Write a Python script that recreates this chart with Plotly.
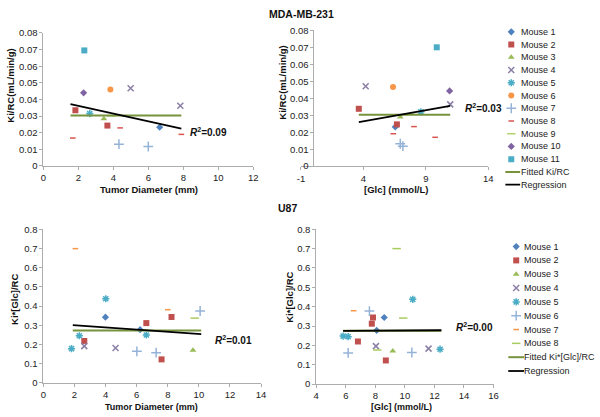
import plotly.graph_objects as go

W, H = 600, 417
FONT = 'Arial, Liberation Sans, sans-serif'

# MDA-MB-231 : Ki/RC against tumour diameter
tl_mouse = ['Mouse 1', 'Mouse 2', 'Mouse 2', 'Mouse 3', 'Mouse 4', 'Mouse 4', 'Mouse 5', 'Mouse 6',
            'Mouse 7', 'Mouse 7', 'Mouse 8', 'Mouse 8', 'Mouse 8', 'Mouse 9', 'Mouse 10', 'Mouse 11']
tl_x = [6.65, 1.83, 3.66, 3.46, 4.99, 7.83, 2.65, 3.83, 4.32, 6.0, 1.68, 4.39, 7.89, 3.89, 2.30, 2.34]
tl_y = [0.0233, 0.0335, 0.0243, 0.0284, 0.0468, 0.0362, 0.0315, 0.046, 0.0131, 0.0117,
        0.0168, 0.0229, 0.019, 0.0301, 0.044, 0.0695]
tl_line_x = [1.55, 7.89]
tl_fit_y = [0.0303, 0.0303]
tl_reg_y = [0.0372, 0.0225]

# MDA-MB-231 : Ki/RC against [Glc]
tr_mouse = tl_mouse
tr_x = [6.55, 3.63, 6.68, 6.95, 4.18, 10.95, 8.6, 6.37, 6.95, 7.16, 9.74, 8.05, 6.39, 7.68, 10.9, 9.87]
tr_y = [0.0231, 0.0338, 0.0246, 0.029, 0.0471, 0.0364, 0.032, 0.0466, 0.0132, 0.0118,
        0.017, 0.0233, 0.0191, 0.0307, 0.0443, 0.070]
tr_line_x = [3.63, 10.95]
tr_fit_y = [0.0303, 0.0303]
tr_reg_y = [0.026, 0.0355]

# U87 : Ki*[Glc]/RC against tumour diameter
bl_mouse = ['Mouse 1', 'Mouse 1', 'Mouse 2', 'Mouse 2', 'Mouse 2', 'Mouse 2', 'Mouse 3', 'Mouse 4', 'Mouse 4',
            'Mouse 5', 'Mouse 5', 'Mouse 5', 'Mouse 5', 'Mouse 6', 'Mouse 6', 'Mouse 6',
            'Mouse 7', 'Mouse 7', 'Mouse 8']
bl_x = [3.99, 6.22, 2.63, 6.62, 7.6, 8.24, 9.62, 2.63, 4.64, 1.81, 2.31, 4.01, 6.62,
        6.01, 7.25, 10.08, 2.06, 8.0, 9.73]
bl_y = [0.342, 0.277, 0.218, 0.311, 0.122, 0.343, 0.169, 0.191, 0.181, 0.178, 0.245, 0.438, 0.249,
        0.164, 0.157, 0.374, 0.699, 0.381, 0.337]
bl_line_x = [1.89, 10.15]
bl_fit_y = [0.272, 0.272]
bl_reg_y = [0.30, 0.254]

# U87 : Ki*[Glc]/RC against [Glc]
br_mouse = ['Mouse 1', 'Mouse 1', 'Mouse 2', 'Mouse 2', 'Mouse 2', 'Mouse 2', 'Mouse 3', 'Mouse 4', 'Mouse 4',
            'Mouse 5', 'Mouse 5', 'Mouse 5', 'Mouse 5', 'Mouse 6', 'Mouse 6', 'Mouse 6',
            'Mouse 7', 'Mouse 8', 'Mouse 8', 'Mouse 8']
br_x = [8.09, 8.6, 6.82, 7.76, 7.84, 8.71, 9.18, 8.04, 11.6, 5.82, 6.16, 10.53, 12.38,
        6.16, 7.6, 10.47, 6.53, 8.13, 9.44, 9.89]
br_y = [0.277, 0.344, 0.22, 0.312, 0.344, 0.122, 0.171, 0.196, 0.183, 0.248, 0.245, 0.438, 0.18,
        0.161, 0.377, 0.163, 0.379, 0.176, 0.70, 0.341]
br_line_x = [5.82, 12.47]
br_fit_y = [0.275, 0.275]
br_reg_y = [0.275, 0.278]

top_r2 = ['0.09', '0.03']
bottom_r2 = ['0.01', '0.00']

top_names = ['Mouse %d' % i for i in range(1, 12)]
bottom_names = ['Mouse %d' % i for i in range(1, 9)]

# (symbol, colour, size)
TOP_STYLE = {
    'Mouse 1': ('diamond', '#4F81BD', 5.5),
    'Mouse 2': ('square', '#C0504D', 6),
    'Mouse 3': ('triangle-up', '#9BBB59', 6),
    'Mouse 4': ('x-thin-open', '#8A7FA6', 6),
    'Mouse 5': ('asterisk-open', '#4BACC6', 6),
    'Mouse 6': ('circle', '#F79646', 6),
    'Mouse 7': ('cross-thin-open', '#95B3D7', 7),
    'Mouse 8': ('line-ew-open', '#D9534F', 4),
    'Mouse 9': ('line-ew-open', '#B3D36B', 6),
    'Mouse 10': ('diamond', '#8064A2', 5.5),
    'Mouse 11': ('square', '#4BACC6', 6),
}
BOTTOM_STYLE = {
    'Mouse 1': ('diamond', '#4F81BD', 5.5),
    'Mouse 2': ('square', '#C0504D', 6),
    'Mouse 3': ('triangle-up', '#9BBB59', 6),
    'Mouse 4': ('x-thin-open', '#8A7FA6', 6),
    'Mouse 5': ('asterisk-open', '#4BACC6', 6),
    'Mouse 6': ('cross-thin-open', '#95B3D7', 7),
    'Mouse 7': ('line-ew-open', '#F79646', 4),
    'Mouse 8': ('line-ew-open', '#A9CC5F', 6),
}
FIT_COLOUR = '#77933C'
REG_COLOUR = '#000000'
AXIS_COLOUR = '#ADADAD'


def px_x(p):
    return p / W


def px_y(p):
    return 1 - p / H


def marker_of(style):
    sym, col, size = style
    if sym.endswith('-open'):
        return dict(symbol=sym, size=size, color=col, line=dict(color=col, width=1.5))
    return dict(symbol=sym, size=size, color=col, line=dict(width=0))


fig = go.Figure()


def add_panel(n, mouse, xs, ys, names, styles, line_x, fit_y, reg_y):
    xa, ya = 'x%d' % n, 'y%d' % n
    for name in names:
        px_ = [x for m, x in zip(mouse, xs) if m == name]
        py_ = [y for m, y in zip(mouse, ys) if m == name]
        if not px_:
            continue
        fig.add_trace(go.Scatter(x=px_, y=py_, mode='markers', name=name, xaxis=xa, yaxis=ya,
                                 marker=marker_of(styles[name]), showlegend=False, cliponaxis=False))
    fig.add_trace(go.Scatter(x=line_x, y=fit_y, mode='lines', xaxis=xa, yaxis=ya, showlegend=False,
                             line=dict(color=FIT_COLOUR, width=2)))
    fig.add_trace(go.Scatter(x=line_x, y=reg_y, mode='lines', xaxis=xa, yaxis=ya, showlegend=False,
                             line=dict(color=REG_COLOUR, width=1.8)))


add_panel(1, tl_mouse, tl_x, tl_y, top_names, TOP_STYLE, tl_line_x, tl_fit_y, tl_reg_y)
add_panel(2, tr_mouse, tr_x, tr_y, top_names, TOP_STYLE, tr_line_x, tr_fit_y, tr_reg_y)
add_panel(3, bl_mouse, bl_x, bl_y, bottom_names, BOTTOM_STYLE, bl_line_x, bl_fit_y, bl_reg_y)
add_panel(4, br_mouse, br_x, br_y, bottom_names, BOTTOM_STYLE, br_line_x, br_fit_y, br_reg_y)


def add_legend(n, names, styles, fit_label, mx, line_x0, line_x1, text_x):
    xa, ya = 'x%d' % n, 'y%d' % n
    for i, name in enumerate(names):
        fig.add_trace(go.Scatter(x=[mx], y=[i], mode='markers', xaxis=xa, yaxis=ya, showlegend=False,
                                 marker=marker_of(styles[name]), hoverinfo='skip'))
    k = len(names)
    fig.add_trace(go.Scatter(x=[line_x0, line_x1], y=[k, k], mode='lines', xaxis=xa, yaxis=ya,
                             showlegend=False, line=dict(color=FIT_COLOUR, width=2)))
    fig.add_trace(go.Scatter(x=[line_x0, line_x1], y=[k + 1, k + 1], mode='lines', xaxis=xa, yaxis=ya,
                             showlegend=False, line=dict(color=REG_COLOUR, width=1.8)))
    for i, label in enumerate(names + [fit_label, 'Regression']):
        fig.add_annotation(x=text_x, y=i, xref=xa, yref=ya, text=label, showarrow=False,
                           xanchor='left', yanchor='middle', font=dict(size=9, color='#222'))


add_legend(5, top_names, TOP_STYLE, 'Fitted Ki/RC', 1.5, 0.9, 2.4, 2.3)
add_legend(6, bottom_names, BOTTOM_STYLE, 'Fitted Ki*[Glc]/RC', 2.0, 1.2, 2.8, 2.6)

tick_font = dict(family=FONT, size=9.5, color='#222')
axis_common = dict(showgrid=False, zeroline=False, showline=True, linecolor=AXIS_COLOUR, linewidth=1,
                   ticks='outside', ticklen=3, tickcolor=AXIS_COLOUR, tickfont=tick_font, fixedrange=True)

top_yvals = [i / 100 for i in range(9)]
top_ytext = ['0'] + ['%.2f' % v for v in top_yvals[1:]]
bot_yvals = [i / 10 for i in range(9)]
bot_ytext = ['0'] + ['%.1f' % v for v in bot_yvals[1:]]
glc_ticks = [-1, 4, 9, 14]

fig.update_layout(
    xaxis=dict(axis_common, domain=[px_x(40), px_x(253)], range=[0, 12], tickvals=list(range(0, 13, 2)),
               anchor='y'),
    yaxis=dict(axis_common, domain=[px_y(164.3), px_y(27.7)], range=[0, 0.08], tickvals=top_yvals,
               ticktext=top_ytext, anchor='x'),
    xaxis2=dict(axis_common, domain=[px_x(301.5), px_x(491.7)], range=[-1, 14], tickvals=glc_ticks,
                ticktext=[str(v) for v in glc_ticks], anchor='y2'),
    yaxis2=dict(axis_common, domain=[px_y(164.5), px_y(25)], range=[0, 0.08], tickvals=top_yvals,
                ticktext=top_ytext, anchor='free', position=px_x(314.2)),
    xaxis3=dict(axis_common, domain=[px_x(40), px_x(261)], range=[0, 14], tickvals=list(range(0, 15, 2)),
                anchor='y3'),
    yaxis3=dict(axis_common, domain=[px_y(387), px_y(229.3)], range=[0, 0.8], tickvals=bot_yvals,
                ticktext=bot_ytext, anchor='x3'),
    xaxis4=dict(axis_common, domain=[px_x(317), px_x(497)], range=[4, 16], tickvals=list(range(4, 17, 2)),
                anchor='y4'),
    yaxis4=dict(axis_common, domain=[px_y(388.3), px_y(229.3)], range=[0, 0.8], tickvals=bot_yvals,
                ticktext=bot_ytext, anchor='x4'),
    xaxis5=dict(domain=[px_x(500), 1], range=[0, 10], visible=False, anchor='y5', fixedrange=True),
    yaxis5=dict(domain=[px_y(190), px_y(20)], range=[12.5, -0.5], visible=False, anchor='x5', fixedrange=True),
    xaxis6=dict(domain=[px_x(500), 1], range=[0, 10], visible=False, anchor='y6', fixedrange=True),
    yaxis6=dict(domain=[px_y(382), px_y(240)], range=[9.5, -0.5], visible=False, anchor='x6', fixedrange=True),
    width=W, height=H, margin=dict(l=0, r=0, t=0, b=0),
    paper_bgcolor='white', plot_bgcolor='white', showlegend=False,
    font=dict(family=FONT, size=9.5, color='#222'),
)


def paper_text(text, x, y, size=9.5, angle=0):
    fig.add_annotation(text=text, x=px_x(x), y=px_y(y), xref='paper', yref='paper', showarrow=False,
                       xanchor='center', yanchor='middle', textangle=angle,
                       font=dict(family=FONT, size=size, color='#111'))


paper_text('<b>MDA-MB-231</b>', 302, 8, size=10.5)
paper_text('<b>U87</b>', 288, 207, size=10.5)
paper_text('<b>Tumor Diameter (mm)</b>', 147, 188)
paper_text('<b>[Glc] (mmol/L)</b>', 398, 188)
paper_text('<b>Tumor Diameter (mm)</b>', 150, 411.5, size=9)
paper_text('<b>[Glc] (mmol/L)</b>', 404, 411.5, size=9)
paper_text('<b>Ki/RC(mL/min/g)</b>', 7, 82, angle=-90)
paper_text('<b>Ki/RC(mL/min/g)</b>', 283, 79, angle=-90)
paper_text('<b>Ki*[Glc]/RC</b>', 10, 301, angle=-90)
paper_text('<b>Ki*[Glc]/RC</b>', 289, 299, angle=-90)

r2_pos = [('x', 'y', 8.26, 0.0205, top_r2[0]), ('x2', 'y2', 12.0, 0.0345, top_r2[1]),
          ('x3', 'y3', 10.88, 0.222, bottom_r2[0]), ('x4', 'y4', 13.3, 0.297, bottom_r2[1])]
for xr, yr, x, y, val in r2_pos:
    fig.add_annotation(x=x, y=y, xref=xr, yref=yr, showarrow=False, xanchor='left', yanchor='middle',
                       text='<b><i>R</i><sup>2</sup>=%s</b>' % val, font=dict(family=FONT, size=10, color='#111'))

# the page body has a default margin; drop it so the figure sits at the window's corner
fig.write_html("out.html", config={'displayModeBar': False},
               post_script="document.body.style.margin='0px';document.body.style.overflow='hidden';")
